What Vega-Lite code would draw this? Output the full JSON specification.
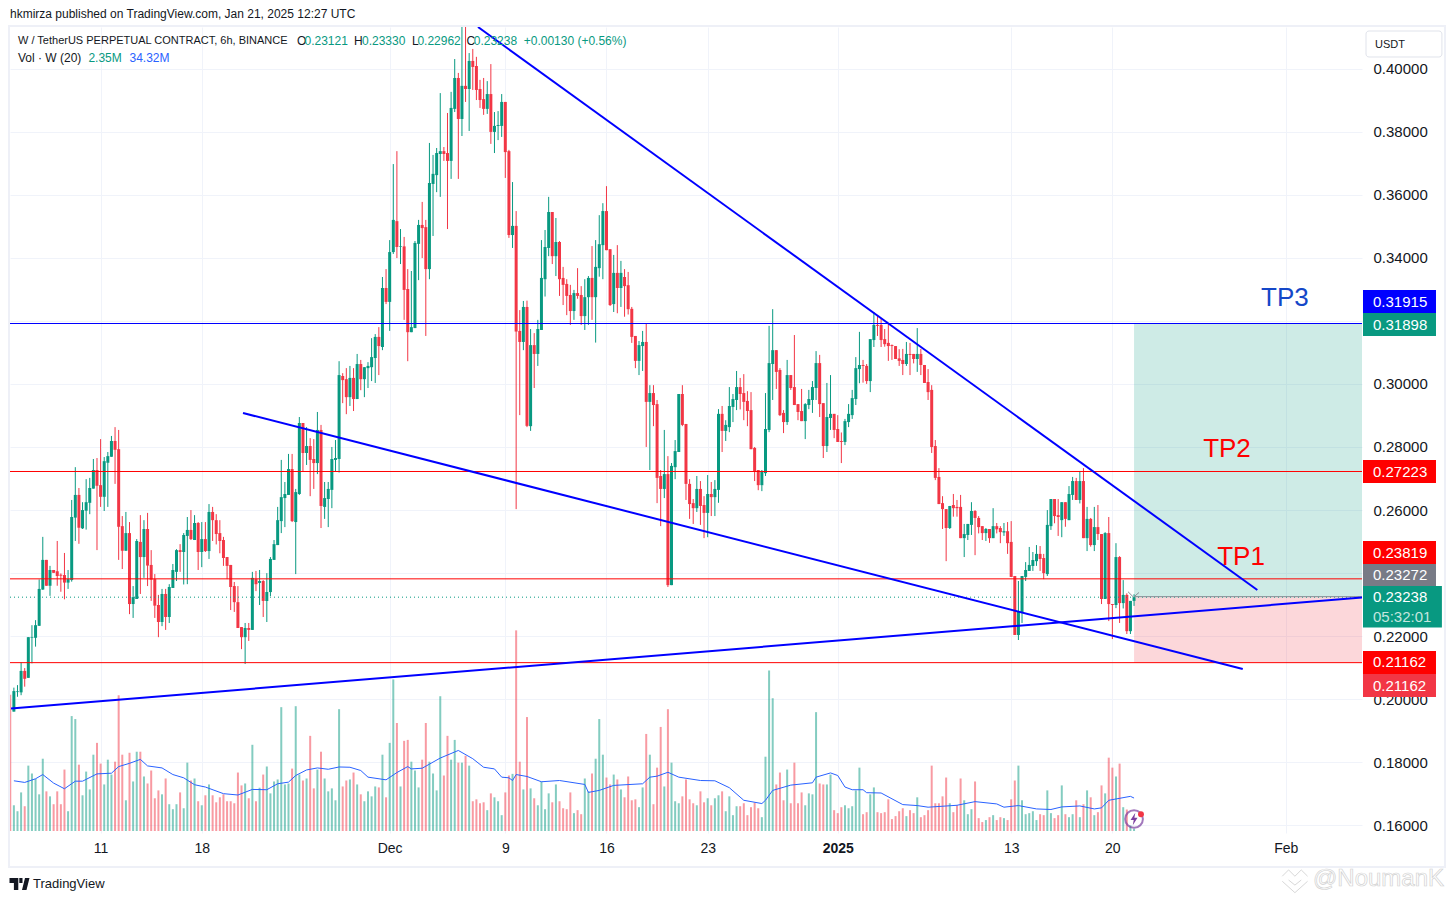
{
"$schema":"https://vega.github.io/schema/vega-lite/v6.json",
"autosize":{"type":"none"},
"padding":{"left":10,"top":27,"right":94,"bottom":69},
"width":1352,"height":806,
"background":"white",
"title":{"text":"hkmirza published on TradingView.com, Jan 21, 2025 12:27 UTC","anchor":"start","frame":"group","offset":4,"fontSize":12,"fontWeight":"normal","font":"Liberation Sans","color":"#131722"},
"config":{"view":{"stroke":null},"font":"Liberation Sans"},
"datasets":{
"bars":[
{"t":"2024-11-04T18:00Z","v":142},
{"t":"2024-11-05T00:00Z","o":0.1961,"h":0.2037,"l":0.1961,"c":0.2026,"v":26.8,"m":52.3},
{"t":"2024-11-05T06:00Z","o":0.2023,"h":0.2045,"l":0.2008,"c":0.2025,"v":20.6},
{"t":"2024-11-05T12:00Z","o":0.2022,"h":0.2117,"l":0.2013,"c":0.209,"v":40.2},
{"t":"2024-11-05T18:00Z","o":0.209,"h":0.2099,"l":0.204,"c":0.2065,"v":25.8,"m":50.6},
{"t":"2024-11-06T00:00Z","o":0.2068,"h":0.2197,"l":0.2068,"c":0.2197,"v":68.1},
{"t":"2024-11-06T06:00Z","o":0.2195,"h":0.2235,"l":0.2114,"c":0.2197,"v":59.9},
{"t":"2024-11-06T12:00Z","o":0.2195,"h":0.2251,"l":0.2167,"c":0.2235,"v":54.4,"m":54.4},
{"t":"2024-11-06T18:00Z","o":0.2233,"h":0.238,"l":0.2233,"c":0.235,"v":38.2},
{"t":"2024-11-07T00:00Z","o":0.2348,"h":0.2515,"l":0.2347,"c":0.2442,"v":75.3,"m":58.8},
{"t":"2024-11-07T06:00Z","o":0.2442,"h":0.2442,"l":0.236,"c":0.236,"v":41.3},
{"t":"2024-11-07T12:00Z","o":0.236,"h":0.2423,"l":0.2328,"c":0.241,"v":36.1},
{"t":"2024-11-07T18:00Z","o":0.241,"h":0.241,"l":0.2401,"c":0.2401,"v":27.9,"m":49.9},
{"t":"2024-11-08T00:00Z","o":0.2406,"h":0.2502,"l":0.236,"c":0.2391,"v":41.3},
{"t":"2024-11-08T06:00Z","o":0.2395,"h":0.2399,"l":0.2341,"c":0.2392,"v":27.9},
{"t":"2024-11-08T12:00Z","o":0.2394,"h":0.2464,"l":0.2317,"c":0.237,"v":64,"m":44},
{"t":"2024-11-08T18:00Z","o":0.237,"h":0.241,"l":0.235,"c":0.2381,"v":20.6},
{"t":"2024-11-09T00:00Z","o":0.2378,"h":0.2632,"l":0.2373,"c":0.2578,"v":119.7},
{"t":"2024-11-09T06:00Z","o":0.2576,"h":0.2736,"l":0.2502,"c":0.2648,"v":116.6,"m":51.9},
{"t":"2024-11-09T12:00Z","o":0.2648,"h":0.267,"l":0.2493,"c":0.2544,"v":69.1},
{"t":"2024-11-09T18:00Z","o":0.2542,"h":0.2625,"l":0.254,"c":0.26,"v":37.2,"m":51.9},
{"t":"2024-11-10T00:00Z","o":0.2598,"h":0.2698,"l":0.2538,"c":0.2625,"v":61.9},
{"t":"2024-11-10T06:00Z","o":0.2623,"h":0.2702,"l":0.2587,"c":0.267,"v":43.3},
{"t":"2024-11-10T12:00Z","o":0.2668,"h":0.2762,"l":0.2668,"c":0.2727,"v":79.5},
{"t":"2024-11-10T18:00Z","o":0.2727,"h":0.2765,"l":0.2473,"c":0.2677,"v":91.8,"m":59.5},
{"t":"2024-11-11T00:00Z","o":0.2679,"h":0.2825,"l":0.261,"c":0.2642,"v":70.2},
{"t":"2024-11-11T06:00Z","o":0.2642,"h":0.2768,"l":0.2597,"c":0.2755,"v":48.5},
{"t":"2024-11-11T12:00Z","o":0.275,"h":0.2784,"l":0.261,"c":0.2771,"v":74.3},
{"t":"2024-11-11T18:00Z","o":0.2769,"h":0.2835,"l":0.2769,"c":0.2819,"v":58.8,"m":60.2},
{"t":"2024-11-12T00:00Z","o":0.2819,"h":0.2863,"l":0.2683,"c":0.2791,"v":72.2},
{"t":"2024-11-12T06:00Z","o":0.2793,"h":0.2854,"l":0.2442,"c":0.2547,"v":141.4,"m":67.1},
{"t":"2024-11-12T12:00Z","o":0.2549,"h":0.2581,"l":0.2413,"c":0.2471,"v":79.5},
{"t":"2024-11-12T18:00Z","o":0.2471,"h":0.2594,"l":0.2471,"c":0.2527,"v":32},
{"t":"2024-11-13T00:00Z","o":0.2527,"h":0.2562,"l":0.227,"c":0.2302,"v":81.5,"m":70.5},
{"t":"2024-11-13T06:00Z","o":0.2302,"h":0.2359,"l":0.2258,"c":0.2324,"v":51.6},
{"t":"2024-11-13T12:00Z","o":0.2318,"h":0.2508,"l":0.2318,"c":0.2502,"v":82.6},
{"t":"2024-11-13T18:00Z","o":0.2499,"h":0.2584,"l":0.2334,"c":0.2451,"v":82.6,"m":74.6},
{"t":"2024-11-14T00:00Z","o":0.2451,"h":0.2568,"l":0.2385,"c":0.254,"v":56.8},
{"t":"2024-11-14T06:00Z","o":0.254,"h":0.2591,"l":0.2359,"c":0.2424,"v":49.5,"m":67.8},
{"t":"2024-11-14T12:00Z","o":0.2426,"h":0.2473,"l":0.2312,"c":0.2379,"v":63},
{"t":"2024-11-14T18:00Z","o":0.2381,"h":0.2397,"l":0.2258,"c":0.2297,"v":34.1},
{"t":"2024-11-15T00:00Z","o":0.2299,"h":0.2331,"l":0.2197,"c":0.2245,"v":42.3},
{"t":"2024-11-15T06:00Z","o":0.2245,"h":0.235,"l":0.2232,"c":0.2334,"v":38.2,"m":65.7},
{"t":"2024-11-15T12:00Z","o":0.2334,"h":0.235,"l":0.222,"c":0.2261,"v":54.7},
{"t":"2024-11-15T18:00Z","o":0.2261,"h":0.2365,"l":0.2242,"c":0.2356,"v":27.9},
{"t":"2024-11-16T00:00Z","o":0.2353,"h":0.2429,"l":0.2353,"c":0.241,"v":22.7,"m":58.8},
{"t":"2024-11-16T06:00Z","o":0.2404,"h":0.2476,"l":0.2375,"c":0.2473,"v":27.9},
{"t":"2024-11-16T12:00Z","o":0.2473,"h":0.2492,"l":0.2404,"c":0.2467,"v":40.2},
{"t":"2024-11-16T18:00Z","o":0.2467,"h":0.2527,"l":0.2364,"c":0.2521,"v":23.7,"m":55.4},
{"t":"2024-11-17T00:00Z","o":0.2518,"h":0.2578,"l":0.2365,"c":0.2537,"v":71.2},
{"t":"2024-11-17T06:00Z","o":0.2537,"h":0.26,"l":0.2505,"c":0.2508,"v":52.6},
{"t":"2024-11-17T12:00Z","o":0.2505,"h":0.2584,"l":0.2505,"c":0.2559,"v":54.7,"m":48.2},
{"t":"2024-11-17T18:00Z","o":0.2559,"h":0.2562,"l":0.241,"c":0.2467,"v":31},
{"t":"2024-11-18T00:00Z","o":0.2467,"h":0.2562,"l":0.2419,"c":0.2508,"v":26.8},
{"t":"2024-11-18T06:00Z","o":0.2508,"h":0.2562,"l":0.2467,"c":0.247,"v":37.2,"m":45.8},
{"t":"2024-11-18T12:00Z","o":0.247,"h":0.2619,"l":0.2445,"c":0.2594,"v":48.5},
{"t":"2024-11-18T18:00Z","o":0.2594,"h":0.261,"l":0.2502,"c":0.2568,"v":37.2},
{"t":"2024-11-19T00:00Z","o":0.2568,"h":0.2587,"l":0.2491,"c":0.2524,"v":29.9},
{"t":"2024-11-19T06:00Z","o":0.2527,"h":0.2568,"l":0.2463,"c":0.2502,"v":35.1},
{"t":"2024-11-19T12:00Z","o":0.2505,"h":0.2515,"l":0.2423,"c":0.2448,"v":38.2,"m":38.9},
{"t":"2024-11-19T18:00Z","o":0.2451,"h":0.2451,"l":0.2381,"c":0.2423,"v":31},
{"t":"2024-11-20T00:00Z","o":0.2426,"h":0.2426,"l":0.2283,"c":0.2356,"v":31},
{"t":"2024-11-20T06:00Z","o":0.2359,"h":0.2372,"l":0.2277,"c":0.2308,"v":28.9},
{"t":"2024-11-20T12:00Z","o":0.2308,"h":0.2359,"l":0.2226,"c":0.2226,"v":60.9,"m":37.5},
{"t":"2024-11-20T18:00Z","o":0.2229,"h":0.2229,"l":0.2159,"c":0.2197,"v":47.5},
{"t":"2024-11-21T00:00Z","o":0.2197,"h":0.2242,"l":0.2112,"c":0.2226,"v":49.5},
{"t":"2024-11-21T06:00Z","o":0.2226,"h":0.2242,"l":0.2185,"c":0.222,"v":34.1},
{"t":"2024-11-21T12:00Z","o":0.222,"h":0.2404,"l":0.222,"c":0.2385,"v":89.8,"m":43.3},
{"t":"2024-11-21T18:00Z","o":0.2381,"h":0.2407,"l":0.2343,"c":0.2365,"v":31},
{"t":"2024-11-22T00:00Z","o":0.2369,"h":0.241,"l":0.2299,"c":0.2375,"v":45.1},
{"t":"2024-11-22T06:00Z","o":0.2375,"h":0.2378,"l":0.2261,"c":0.2312,"v":58.8},
{"t":"2024-11-22T12:00Z","o":0.2312,"h":0.24,"l":0.2245,"c":0.234,"v":67.1,"m":43},
{"t":"2024-11-22T18:00Z","o":0.234,"h":0.2451,"l":0.2327,"c":0.2445,"v":39.2},
{"t":"2024-11-23T00:00Z","o":0.2442,"h":0.2505,"l":0.2442,"c":0.2492,"v":51.6},
{"t":"2024-11-23T06:00Z","o":0.2489,"h":0.261,"l":0.2489,"c":0.2568,"v":53.7,"m":49.2},
{"t":"2024-11-23T12:00Z","o":0.2565,"h":0.2759,"l":0.2527,"c":0.2641,"v":129},
{"t":"2024-11-23T18:00Z","o":0.2638,"h":0.2689,"l":0.2546,"c":0.2651,"v":48.5},
{"t":"2024-11-24T00:00Z","o":0.2648,"h":0.2778,"l":0.2648,"c":0.273,"v":49.5,"m":50.9},
{"t":"2024-11-24T06:00Z","o":0.273,"h":0.2778,"l":0.2562,"c":0.2565,"v":65},
{"t":"2024-11-24T12:00Z","o":0.2562,"h":0.2667,"l":0.2397,"c":0.2657,"v":130,"m":57.8},
{"t":"2024-11-24T18:00Z","o":0.2651,"h":0.2895,"l":0.2648,"c":0.2876,"v":58.8},
{"t":"2024-11-25T00:00Z","o":0.2876,"h":0.2876,"l":0.2723,"c":0.2781,"v":52.6},
{"t":"2024-11-25T06:00Z","o":0.2781,"h":0.2863,"l":0.2743,"c":0.2803,"v":54.7,"m":63.6},
{"t":"2024-11-25T12:00Z","o":0.2803,"h":0.2828,"l":0.2644,"c":0.2759,"v":99.1},
{"t":"2024-11-25T18:00Z","o":0.2762,"h":0.2825,"l":0.2667,"c":0.2749,"v":44.4},
{"t":"2024-11-26T00:00Z","o":0.2749,"h":0.2911,"l":0.2714,"c":0.2854,"v":64,"m":65.7},
{"t":"2024-11-26T06:00Z","o":0.2854,"h":0.287,"l":0.2543,"c":0.2613,"v":82.6},
{"t":"2024-11-26T12:00Z","o":0.261,"h":0.2689,"l":0.2572,"c":0.2638,"v":54.7},
{"t":"2024-11-26T18:00Z","o":0.2635,"h":0.2689,"l":0.2546,"c":0.2667,"v":41.3,"m":64.3},
{"t":"2024-11-27T00:00Z","o":0.2664,"h":0.28,"l":0.2606,"c":0.2762,"v":44.4},
{"t":"2024-11-27T06:00Z","o":0.2759,"h":0.2822,"l":0.2721,"c":0.2765,"v":32},
{"t":"2024-11-27T12:00Z","o":0.2762,"h":0.3072,"l":0.2719,"c":0.3028,"v":126.9,"m":66.7},
{"t":"2024-11-27T18:00Z","o":0.3025,"h":0.3034,"l":0.2939,"c":0.3012,"v":46.4},
{"t":"2024-11-28T00:00Z","o":0.3015,"h":0.305,"l":0.2904,"c":0.2958,"v":52.6},
{"t":"2024-11-28T06:00Z","o":0.2958,"h":0.3057,"l":0.293,"c":0.3019,"v":53.7,"m":66.4},
{"t":"2024-11-28T12:00Z","o":0.3019,"h":0.305,"l":0.2914,"c":0.2952,"v":60.9},
{"t":"2024-11-28T18:00Z","o":0.2952,"h":0.3095,"l":0.2952,"c":0.3063,"v":48.5},
{"t":"2024-11-29T00:00Z","o":0.3063,"h":0.3076,"l":0.298,"c":0.3015,"v":38.2,"m":63},
{"t":"2024-11-29T06:00Z","o":0.3015,"h":0.3053,"l":0.2958,"c":0.3053,"v":31},
{"t":"2024-11-29T12:00Z","o":0.305,"h":0.3069,"l":0.2987,"c":0.3057,"v":41.3,"m":56.1},
{"t":"2024-11-29T18:00Z","o":0.3053,"h":0.3145,"l":0.3009,"c":0.3085,"v":36.1},
{"t":"2024-11-30T00:00Z","o":0.3082,"h":0.3158,"l":0.3003,"c":0.3149,"v":46.4},
{"t":"2024-11-30T06:00Z","o":0.3149,"h":0.318,"l":0.3028,"c":0.312,"v":45.4},
{"t":"2024-11-30T12:00Z","o":0.3117,"h":0.3339,"l":0.3107,"c":0.3304,"v":79.5},
{"t":"2024-11-30T18:00Z","o":0.3304,"h":0.3364,"l":0.3253,"c":0.326,"v":35.1,"m":53.3},
{"t":"2024-12-01T00:00Z","o":0.326,"h":0.3456,"l":0.3168,"c":0.3418,"v":91.8},
{"t":"2024-12-01T06:00Z","o":0.3418,"h":0.3697,"l":0.3412,"c":0.352,"v":157.9},
{"t":"2024-12-01T12:00Z","o":0.3516,"h":0.3738,"l":0.3399,"c":0.3434,"v":112.5,"m":60.9},
{"t":"2024-12-01T18:00Z","o":0.3434,"h":0.3491,"l":0.338,"c":0.3436,"v":46.4},
{"t":"2024-12-02T00:00Z","o":0.3436,"h":0.3466,"l":0.3203,"c":0.3298,"v":93.9},
{"t":"2024-12-02T06:00Z","o":0.3301,"h":0.3364,"l":0.3072,"c":0.3164,"v":94.9,"m":67.1},
{"t":"2024-12-02T12:00Z","o":0.3164,"h":0.3358,"l":0.3164,"c":0.318,"v":72.2,"m":64.7},
{"t":"2024-12-02T18:00Z","o":0.3177,"h":0.3453,"l":0.3177,"c":0.3447,"v":63},
{"t":"2024-12-03T00:00Z","o":0.3444,"h":0.352,"l":0.3329,"c":0.3504,"v":45.4},
{"t":"2024-12-03T06:00Z","o":0.3504,"h":0.3577,"l":0.3399,"c":0.3494,"v":74.3,"m":65.4},
{"t":"2024-12-03T12:00Z","o":0.3497,"h":0.352,"l":0.3152,"c":0.3364,"v":112.5},
{"t":"2024-12-03T18:00Z","o":0.3364,"h":0.3764,"l":0.3332,"c":0.3637,"v":72.2},
{"t":"2024-12-04T00:00Z","o":0.3634,"h":0.3726,"l":0.3469,"c":0.3666,"v":59.9},
{"t":"2024-12-04T06:00Z","o":0.3662,"h":0.3748,"l":0.3608,"c":0.3732,"v":42.3},
{"t":"2024-12-04T12:00Z","o":0.3729,"h":0.3922,"l":0.3593,"c":0.3738,"v":140.4,"m":76},
{"t":"2024-12-04T18:00Z","o":0.3738,"h":0.3751,"l":0.3707,"c":0.3729,"v":57.8},
{"t":"2024-12-05T00:00Z","o":0.3732,"h":0.3859,"l":0.3491,"c":0.3707,"v":99.1},
{"t":"2024-12-05T06:00Z","o":0.3707,"h":0.3926,"l":0.365,"c":0.3875,"v":74.3},
{"t":"2024-12-05T12:00Z","o":0.3872,"h":0.403,"l":0.3862,"c":0.397,"v":94.9},
{"t":"2024-12-05T18:00Z","o":0.397,"h":0.3986,"l":0.365,"c":0.384,"v":71.2,"m":83.9},
{"t":"2024-12-06T00:00Z","o":0.384,"h":0.415,"l":0.3786,"c":0.3945,"v":71.2},
{"t":"2024-12-06T06:00Z","o":0.3945,"h":0.415,"l":0.3894,"c":0.3935,"v":78.4},
{"t":"2024-12-06T12:00Z","o":0.3935,"h":0.4049,"l":0.3802,"c":0.4024,"v":68.1},
{"t":"2024-12-06T18:00Z","o":0.4024,"h":0.4062,"l":0.3932,"c":0.4005,"v":31,"m":75.3},
{"t":"2024-12-07T00:00Z","o":0.4008,"h":0.4037,"l":0.39,"c":0.3932,"v":33},
{"t":"2024-12-07T06:00Z","o":0.3935,"h":0.3964,"l":0.3875,"c":0.39,"v":28.9},
{"t":"2024-12-07T12:00Z","o":0.3903,"h":0.397,"l":0.3853,"c":0.3872,"v":29.9,"m":66.4},
{"t":"2024-12-07T18:00Z","o":0.3872,"h":0.396,"l":0.3856,"c":0.3919,"v":21.7},
{"t":"2024-12-08T00:00Z","o":0.3919,"h":0.4014,"l":0.3761,"c":0.3799,"v":39.2},
{"t":"2024-12-08T06:00Z","o":0.3799,"h":0.3862,"l":0.3732,"c":0.3818,"v":35.1,"m":64.7},
{"t":"2024-12-08T12:00Z","o":0.3818,"h":0.3865,"l":0.3773,"c":0.3821,"v":31},
{"t":"2024-12-08T18:00Z","o":0.3818,"h":0.3919,"l":0.3783,"c":0.3894,"v":16.5,"m":56.1},
{"t":"2024-12-09T00:00Z","o":0.3894,"h":0.3894,"l":0.3653,"c":0.3735,"v":40.2},
{"t":"2024-12-09T06:00Z","o":0.3738,"h":0.3742,"l":0.3463,"c":0.3472,"v":57.8,"m":55.4},
{"t":"2024-12-09T12:00Z","o":0.3472,"h":0.364,"l":0.3431,"c":0.3501,"v":59.5,"m":52.6},
{"t":"2024-12-09T18:00Z","o":0.3501,"h":0.3548,"l":0.2603,"c":0.3166,"v":209,"m":58.8},
{"t":"2024-12-10T00:00Z","o":0.3168,"h":0.3234,"l":0.2901,"c":0.3133,"v":72.2},
{"t":"2024-12-10T06:00Z","o":0.3133,"h":0.3263,"l":0.3107,"c":0.3244,"v":43.3},
{"t":"2024-12-10T12:00Z","o":0.3244,"h":0.3264,"l":0.2863,"c":0.2867,"v":118.7,"m":56.8},
{"t":"2024-12-10T18:00Z","o":0.2866,"h":0.3174,"l":0.2851,"c":0.3123,"v":44.4},
{"t":"2024-12-11T00:00Z","o":0.3123,"h":0.3161,"l":0.2987,"c":0.3095,"v":34.1},
{"t":"2024-12-11T06:00Z","o":0.3095,"h":0.3203,"l":0.3057,"c":0.3174,"v":26.8},
{"t":"2024-12-11T12:00Z","o":0.3171,"h":0.3456,"l":0.3171,"c":0.3336,"v":51.6,"m":51.3},
{"t":"2024-12-11T18:00Z","o":0.3332,"h":0.3488,"l":0.3277,"c":0.3434,"v":22.7},
{"t":"2024-12-12T00:00Z","o":0.3431,"h":0.3593,"l":0.3405,"c":0.3545,"v":39.2},
{"t":"2024-12-12T06:00Z","o":0.3545,"h":0.3545,"l":0.338,"c":0.3405,"v":29.9},
{"t":"2024-12-12T12:00Z","o":0.3405,"h":0.3526,"l":0.3342,"c":0.345,"v":48.5},
{"t":"2024-12-12T18:00Z","o":0.345,"h":0.3453,"l":0.3279,"c":0.3332,"v":31,"m":52.6},
{"t":"2024-12-13T00:00Z","o":0.3336,"h":0.3371,"l":0.325,"c":0.3314,"v":23.7},
{"t":"2024-12-13T06:00Z","o":0.3317,"h":0.3332,"l":0.3218,"c":0.3279,"v":22.7},
{"t":"2024-12-13T12:00Z","o":0.3282,"h":0.3314,"l":0.3187,"c":0.3231,"v":40.2},
{"t":"2024-12-13T18:00Z","o":0.3231,"h":0.3298,"l":0.3203,"c":0.3288,"v":18.6},
{"t":"2024-12-14T00:00Z","o":0.3288,"h":0.3367,"l":0.327,"c":0.3279,"v":21.7},
{"t":"2024-12-14T06:00Z","o":0.3282,"h":0.331,"l":0.3187,"c":0.3215,"v":17.5},
{"t":"2024-12-14T12:00Z","o":0.3215,"h":0.3332,"l":0.3171,"c":0.3275,"v":54.7,"m":48.5},
{"t":"2024-12-14T18:00Z","o":0.3275,"h":0.3342,"l":0.3187,"c":0.3336,"v":41.3,"m":40.2},
{"t":"2024-12-15T00:00Z","o":0.3336,"h":0.3437,"l":0.3203,"c":0.3275,"v":59.9},
{"t":"2024-12-15T06:00Z","o":0.3275,"h":0.3456,"l":0.3131,"c":0.3371,"v":75.3},
{"t":"2024-12-15T12:00Z","o":0.3367,"h":0.3535,"l":0.334,"c":0.3443,"v":116.6,"m":42.3},
{"t":"2024-12-15T18:00Z","o":0.344,"h":0.3573,"l":0.3332,"c":0.3548,"v":79.5},
{"t":"2024-12-16T00:00Z","o":0.3548,"h":0.3627,"l":0.3424,"c":0.3424,"v":55.7},
{"t":"2024-12-16T06:00Z","o":0.3427,"h":0.3427,"l":0.3247,"c":0.325,"v":48.5},
{"t":"2024-12-16T12:00Z","o":0.3253,"h":0.3409,"l":0.3228,"c":0.3352,"v":58.8,"m":47.5},
{"t":"2024-12-16T18:00Z","o":0.3352,"h":0.344,"l":0.3224,"c":0.3304,"v":53.7},
{"t":"2024-12-17T00:00Z","o":0.3304,"h":0.339,"l":0.3244,"c":0.3352,"v":43.3},
{"t":"2024-12-17T06:00Z","o":0.3339,"h":0.3364,"l":0.3213,"c":0.331,"v":35.1},
{"t":"2024-12-17T12:00Z","o":0.3313,"h":0.3355,"l":0.322,"c":0.3237,"v":56.8},
{"t":"2024-12-17T18:00Z","o":0.3238,"h":0.3244,"l":0.313,"c":0.3149,"v":32},
{"t":"2024-12-18T00:00Z","o":0.3152,"h":0.3152,"l":0.305,"c":0.3073,"v":33},
{"t":"2024-12-18T06:00Z","o":0.3073,"h":0.3136,"l":0.3028,"c":0.3123,"v":24.8},
{"t":"2024-12-18T12:00Z","o":0.312,"h":0.3168,"l":0.3041,"c":0.3133,"v":45.4,"m":49.2},
{"t":"2024-12-18T18:00Z","o":0.3133,"h":0.3193,"l":0.28,"c":0.2943,"v":101.1},
{"t":"2024-12-19T00:00Z","o":0.2943,"h":0.2996,"l":0.2727,"c":0.2971,"v":79.5,"m":56.1},
{"t":"2024-12-19T06:00Z","o":0.2971,"h":0.2996,"l":0.2866,"c":0.2933,"v":27.9},
{"t":"2024-12-19T12:00Z","o":0.2936,"h":0.2949,"l":0.2622,"c":0.2702,"v":66,"m":57.1},
{"t":"2024-12-19T18:00Z","o":0.2708,"h":0.2727,"l":0.2549,"c":0.2667,"v":108.4},
{"t":"2024-12-20T00:00Z","o":0.2667,"h":0.2854,"l":0.2638,"c":0.2714,"v":46.4},
{"t":"2024-12-20T06:00Z","o":0.2714,"h":0.2771,"l":0.2356,"c":0.2362,"v":126.9,"m":61.2},
{"t":"2024-12-20T12:00Z","o":0.2362,"h":0.2749,"l":0.2362,"c":0.274,"v":71.2},
{"t":"2024-12-20T18:00Z","o":0.2736,"h":0.2822,"l":0.2698,"c":0.2787,"v":31},
{"t":"2024-12-21T00:00Z","o":0.2784,"h":0.2968,"l":0.2784,"c":0.2968,"v":28.9,"m":56.1},
{"t":"2024-12-21T06:00Z","o":0.2968,"h":0.2996,"l":0.2866,"c":0.287,"v":36.1},
{"t":"2024-12-21T12:00Z","o":0.2873,"h":0.2873,"l":0.2632,"c":0.2683,"v":53.7},
{"t":"2024-12-21T18:00Z","o":0.2683,"h":0.2698,"l":0.2572,"c":0.2619,"v":33},
{"t":"2024-12-22T00:00Z","o":0.2622,"h":0.2635,"l":0.2556,"c":0.2606,"v":28.9},
{"t":"2024-12-22T06:00Z","o":0.2606,"h":0.2708,"l":0.2594,"c":0.2667,"v":26.8},
{"t":"2024-12-22T12:00Z","o":0.2667,"h":0.2692,"l":0.2553,"c":0.2613,"v":41.3,"m":52.6},
{"t":"2024-12-22T18:00Z","o":0.2616,"h":0.2644,"l":0.2511,"c":0.2591,"v":29.9},
{"t":"2024-12-23T00:00Z","o":0.2591,"h":0.2711,"l":0.2514,"c":0.2651,"v":34.1},
{"t":"2024-12-23T06:00Z","o":0.2651,"h":0.2689,"l":0.2581,"c":0.2641,"v":26.8},
{"t":"2024-12-23T12:00Z","o":0.2641,"h":0.2695,"l":0.2581,"c":0.2667,"v":34.1,"m":52.3},
{"t":"2024-12-23T18:00Z","o":0.2664,"h":0.292,"l":0.2623,"c":0.2905,"v":37.2},
{"t":"2024-12-24T00:00Z","o":0.2905,"h":0.293,"l":0.2784,"c":0.2851,"v":41.3},
{"t":"2024-12-24T06:00Z","o":0.2851,"h":0.2885,"l":0.2819,"c":0.287,"v":20.6},
{"t":"2024-12-24T12:00Z","o":0.2863,"h":0.299,"l":0.2847,"c":0.293,"v":36.1,"m":45.1},
{"t":"2024-12-24T18:00Z","o":0.2927,"h":0.2968,"l":0.2879,"c":0.2952,"v":16.5},
{"t":"2024-12-25T00:00Z","o":0.2949,"h":0.3041,"l":0.2917,"c":0.299,"v":25.8},
{"t":"2024-12-25T06:00Z","o":0.299,"h":0.3019,"l":0.2919,"c":0.2968,"v":25.8},
{"t":"2024-12-25T12:00Z","o":0.2971,"h":0.3031,"l":0.2885,"c":0.2943,"v":28.9,"m":32},
{"t":"2024-12-25T18:00Z","o":0.2946,"h":0.2977,"l":0.2866,"c":0.2914,"v":16.5},
{"t":"2024-12-26T00:00Z","o":0.2917,"h":0.2974,"l":0.2793,"c":0.2793,"v":24.8},
{"t":"2024-12-26T06:00Z","o":0.2797,"h":0.28,"l":0.2692,"c":0.2721,"v":29.6},
{"t":"2024-12-26T12:00Z","o":0.2727,"h":0.2727,"l":0.2663,"c":0.2679,"v":23.7},
{"t":"2024-12-26T18:00Z","o":0.2679,"h":0.2727,"l":0.266,"c":0.2724,"v":14.4,"m":28.6},
{"t":"2024-12-27T00:00Z","o":0.2717,"h":0.2971,"l":0.2708,"c":0.2857,"v":77.4,"m":32},
{"t":"2024-12-27T06:00Z","o":0.2854,"h":0.3184,"l":0.2847,"c":0.3066,"v":167.2},
{"t":"2024-12-27T12:00Z","o":0.3063,"h":0.3237,"l":0.2949,"c":0.3107,"v":138.3,"m":42.3},
{"t":"2024-12-27T18:00Z","o":0.3107,"h":0.3107,"l":0.2984,"c":0.3038,"v":48.5},
{"t":"2024-12-28T00:00Z","o":0.3044,"h":0.305,"l":0.2898,"c":0.2901,"v":60.9},
{"t":"2024-12-28T06:00Z","o":0.2908,"h":0.2917,"l":0.2844,"c":0.2879,"v":32},
{"t":"2024-12-28T12:00Z","o":0.2879,"h":0.3076,"l":0.287,"c":0.3028,"v":64},
{"t":"2024-12-28T18:00Z","o":0.3028,"h":0.3028,"l":0.2981,"c":0.2987,"v":28.9,"m":47.8},
{"t":"2024-12-29T00:00Z","o":0.299,"h":0.3155,"l":0.2933,"c":0.2933,"v":71.2},
{"t":"2024-12-29T06:00Z","o":0.2936,"h":0.2936,"l":0.2885,"c":0.2911,"v":28.9},
{"t":"2024-12-29T12:00Z","o":0.2914,"h":0.2984,"l":0.2882,"c":0.2882,"v":40.2},
{"t":"2024-12-29T18:00Z","o":0.2882,"h":0.2939,"l":0.2825,"c":0.2936,"v":26.8},
{"t":"2024-12-30T00:00Z","o":0.2933,"h":0.2981,"l":0.292,"c":0.2952,"v":39.2},
{"t":"2024-12-30T06:00Z","o":0.2949,"h":0.3009,"l":0.2908,"c":0.299,"v":38.2,"m":50.2},
{"t":"2024-12-30T12:00Z","o":0.2987,"h":0.3104,"l":0.2949,"c":0.3066,"v":123.8,"m":56.1},
{"t":"2024-12-30T18:00Z","o":0.3066,"h":0.3092,"l":0.2895,"c":0.2936,"v":49.5},
{"t":"2024-12-31T00:00Z","o":0.2939,"h":0.2939,"l":0.2765,"c":0.2803,"v":48.5},
{"t":"2024-12-31T06:00Z","o":0.2803,"h":0.3003,"l":0.2784,"c":0.2895,"v":48.5},
{"t":"2024-12-31T12:00Z","o":0.2892,"h":0.3028,"l":0.2854,"c":0.2905,"v":58.8,"m":60.5},
{"t":"2024-12-31T18:00Z","o":0.2905,"h":0.2905,"l":0.2828,"c":0.2854,"v":21.7},
{"t":"2025-01-01T00:00Z","o":0.2857,"h":0.2901,"l":0.2816,"c":0.2816,"v":18.6,"m":57.8},
{"t":"2025-01-01T06:00Z","o":0.2819,"h":0.2846,"l":0.2749,"c":0.2816,"v":24.8},
{"t":"2025-01-01T12:00Z","o":0.2816,"h":0.2889,"l":0.2806,"c":0.2882,"v":26.8,"m":45.8},
{"t":"2025-01-01T18:00Z","o":0.2879,"h":0.2936,"l":0.2863,"c":0.2905,"v":23.7},
{"t":"2025-01-02T00:00Z","o":0.2901,"h":0.2981,"l":0.2889,"c":0.2955,"v":25.8,"m":43},
{"t":"2025-01-02T06:00Z","o":0.2952,"h":0.3085,"l":0.2933,"c":0.305,"v":42.3},
{"t":"2025-01-02T12:00Z","o":0.3047,"h":0.3165,"l":0.3002,"c":0.306,"v":66},
{"t":"2025-01-02T18:00Z","o":0.306,"h":0.3076,"l":0.3004,"c":0.3057,"v":17.5,"m":43},
{"t":"2025-01-03T00:00Z","o":0.3057,"h":0.3063,"l":0.3,"c":0.3009,"v":19.6,"m":39.9},
{"t":"2025-01-03T06:00Z","o":0.3009,"h":0.3142,"l":0.2974,"c":0.3142,"v":38.2},
{"t":"2025-01-03T12:00Z","o":0.3139,"h":0.3228,"l":0.3117,"c":0.3187,"v":45.4},
{"t":"2025-01-03T18:00Z","o":0.3187,"h":0.3218,"l":0.3152,"c":0.3184,"v":19.6},
{"t":"2025-01-04T00:00Z","o":0.3187,"h":0.3206,"l":0.3117,"c":0.3139,"v":18.6,"m":39.6},
{"t":"2025-01-04T06:00Z","o":0.3142,"h":0.3174,"l":0.3118,"c":0.3126,"v":19.6},
{"t":"2025-01-04T12:00Z","o":0.313,"h":0.3193,"l":0.3073,"c":0.312,"v":33},
{"t":"2025-01-04T18:00Z","o":0.3123,"h":0.3125,"l":0.3076,"c":0.312,"v":12.4},
{"t":"2025-01-05T00:00Z","o":0.312,"h":0.312,"l":0.3079,"c":0.3079,"v":15.5},
{"t":"2025-01-05T06:00Z","o":0.3081,"h":0.311,"l":0.3057,"c":0.3073,"v":20.6},
{"t":"2025-01-05T12:00Z","o":0.3076,"h":0.3111,"l":0.3028,"c":0.3063,"v":23.7,"m":27.5},
{"t":"2025-01-05T18:00Z","o":0.3063,"h":0.3133,"l":0.3057,"c":0.3095,"v":15.5},
{"t":"2025-01-06T00:00Z","o":0.3095,"h":0.313,"l":0.3028,"c":0.3092,"v":21.7},
{"t":"2025-01-06T06:00Z","o":0.3095,"h":0.3095,"l":0.3065,"c":0.3079,"v":18.6},
{"t":"2025-01-06T12:00Z","o":0.3079,"h":0.3177,"l":0.3038,"c":0.3095,"v":35.1,"m":26.5},
{"t":"2025-01-06T18:00Z","o":0.3095,"h":0.3111,"l":0.3028,"c":0.306,"v":14.4},
{"t":"2025-01-07T00:00Z","o":0.306,"h":0.306,"l":0.3003,"c":0.3003,"v":16.5},
{"t":"2025-01-07T06:00Z","o":0.3006,"h":0.3047,"l":0.2949,"c":0.2974,"v":21.7,"m":24.8},
{"t":"2025-01-07T12:00Z","o":0.2981,"h":0.2996,"l":0.2781,"c":0.28,"v":68.1},
{"t":"2025-01-07T18:00Z","o":0.2803,"h":0.2822,"l":0.2695,"c":0.2702,"v":28.9},
{"t":"2025-01-08T00:00Z","o":0.2705,"h":0.2733,"l":0.2619,"c":0.2619,"v":28.9},
{"t":"2025-01-08T06:00Z","o":0.2622,"h":0.2644,"l":0.254,"c":0.2603,"v":36.1},
{"t":"2025-01-08T12:00Z","o":0.2603,"h":0.2603,"l":0.2438,"c":0.2543,"v":55.7},
{"t":"2025-01-08T18:00Z","o":0.2543,"h":0.2613,"l":0.254,"c":0.2613,"v":28.9},
{"t":"2025-01-09T00:00Z","o":0.2616,"h":0.2651,"l":0.2579,"c":0.2606,"v":19.6},
{"t":"2025-01-09T06:00Z","o":0.261,"h":0.2632,"l":0.2579,"c":0.2606,"v":26.8,"m":26.8},
{"t":"2025-01-09T12:00Z","o":0.261,"h":0.2648,"l":0.2511,"c":0.2511,"v":54.7},
{"t":"2025-01-09T18:00Z","o":0.2511,"h":0.2556,"l":0.2451,"c":0.2524,"v":32},
{"t":"2025-01-10T00:00Z","o":0.2521,"h":0.2556,"l":0.2505,"c":0.2556,"v":17.5},
{"t":"2025-01-10T06:00Z","o":0.2553,"h":0.2625,"l":0.2521,"c":0.2597,"v":22.7},
{"t":"2025-01-10T12:00Z","o":0.2597,"h":0.26,"l":0.2457,"c":0.2575,"v":51.6,"m":30.6},
{"t":"2025-01-10T18:00Z","o":0.2575,"h":0.2581,"l":0.2526,"c":0.2546,"v":13.4},
{"t":"2025-01-11T00:00Z","o":0.2549,"h":0.2549,"l":0.2505,"c":0.2527,"v":9.3},
{"t":"2025-01-11T06:00Z","o":0.2527,"h":0.2543,"l":0.2502,"c":0.254,"v":11.4},
{"t":"2025-01-11T12:00Z","o":0.254,"h":0.254,"l":0.2496,"c":0.2511,"v":14.4},
{"t":"2025-01-11T18:00Z","o":0.2511,"h":0.2606,"l":0.2511,"c":0.2549,"v":16.5},
{"t":"2025-01-12T00:00Z","o":0.2549,"h":0.2559,"l":0.2526,"c":0.2539,"v":11.4,"m":28.2},
{"t":"2025-01-12T06:00Z","o":0.2543,"h":0.2549,"l":0.2495,"c":0.253,"v":14.4},
{"t":"2025-01-12T12:00Z","o":0.2529,"h":0.2559,"l":0.2518,"c":0.2533,"v":13.4,"m":24.8},
{"t":"2025-01-12T18:00Z","o":0.2533,"h":0.2562,"l":0.2461,"c":0.2495,"v":11.4},
{"t":"2025-01-13T00:00Z","o":0.2499,"h":0.2565,"l":0.2388,"c":0.2388,"v":33},
{"t":"2025-01-13T06:00Z","o":0.2391,"h":0.2391,"l":0.2204,"c":0.2204,"v":52.6},
{"t":"2025-01-13T12:00Z","o":0.2204,"h":0.2375,"l":0.2188,"c":0.228,"v":68.1,"m":26.5},
{"t":"2025-01-13T18:00Z","o":0.2277,"h":0.2391,"l":0.2242,"c":0.2391,"v":32},
{"t":"2025-01-14T00:00Z","o":0.2388,"h":0.2435,"l":0.2375,"c":0.241,"v":17.5},
{"t":"2025-01-14T06:00Z","o":0.2407,"h":0.2483,"l":0.2407,"c":0.2426,"v":18.6},
{"t":"2025-01-14T12:00Z","o":0.2423,"h":0.2467,"l":0.2407,"c":0.2442,"v":20.6},
{"t":"2025-01-14T18:00Z","o":0.2438,"h":0.2489,"l":0.2423,"c":0.2461,"v":11.4,"m":23},
{"t":"2025-01-15T00:00Z","o":0.2461,"h":0.2486,"l":0.2407,"c":0.2445,"v":17.5},
{"t":"2025-01-15T06:00Z","o":0.2448,"h":0.2461,"l":0.2381,"c":0.24,"v":16.5},
{"t":"2025-01-15T12:00Z","o":0.2397,"h":0.26,"l":0.2391,"c":0.2553,"v":42.3},
{"t":"2025-01-15T18:00Z","o":0.2549,"h":0.2635,"l":0.2537,"c":0.2635,"v":18.6,"m":22.4},
{"t":"2025-01-16T00:00Z","o":0.2635,"h":0.2635,"l":0.2558,"c":0.2581,"v":13.4},
{"t":"2025-01-16T06:00Z","o":0.2584,"h":0.2635,"l":0.2518,"c":0.2578,"v":16.5},
{"t":"2025-01-16T12:00Z","o":0.2568,"h":0.2625,"l":0.2514,"c":0.2625,"v":47.5,"m":25.1},
{"t":"2025-01-16T18:00Z","o":0.2625,"h":0.2625,"l":0.2547,"c":0.2572,"v":17.5},
{"t":"2025-01-17T00:00Z","o":0.2568,"h":0.2676,"l":0.2568,"c":0.2651,"v":14.4},
{"t":"2025-01-17T06:00Z","o":0.2648,"h":0.2705,"l":0.2632,"c":0.2692,"v":17.5},
{"t":"2025-01-17T12:00Z","o":0.2692,"h":0.2702,"l":0.2632,"c":0.2632,"v":32},
{"t":"2025-01-17T18:00Z","o":0.2632,"h":0.2724,"l":0.2621,"c":0.2692,"v":14.4,"m":26.1},
{"t":"2025-01-18T00:00Z","o":0.2692,"h":0.2733,"l":0.2511,"c":0.2511,"v":27.9},
{"t":"2025-01-18T06:00Z","o":0.2511,"h":0.261,"l":0.247,"c":0.2572,"v":42.3},
{"t":"2025-01-18T12:00Z","o":0.2572,"h":0.2575,"l":0.2484,"c":0.2489,"v":35.1},
{"t":"2025-01-18T18:00Z","o":0.2489,"h":0.261,"l":0.247,"c":0.2546,"v":16.5,"m":23},
{"t":"2025-01-19T00:00Z","o":0.2546,"h":0.2616,"l":0.2505,"c":0.2524,"v":19.6},
{"t":"2025-01-19T06:00Z","o":0.2524,"h":0.2524,"l":0.2302,"c":0.2318,"v":47.5,"m":24.1},
{"t":"2025-01-19T12:00Z","o":0.2318,"h":0.253,"l":0.2318,"c":0.2527,"v":39.2},
{"t":"2025-01-19T18:00Z","o":0.2527,"h":0.2578,"l":0.2248,"c":0.2302,"v":76.4,"m":32},
{"t":"2025-01-20T00:00Z","o":0.2302,"h":0.2302,"l":0.2191,"c":0.2299,"v":66},
{"t":"2025-01-20T06:00Z","o":0.2299,"h":0.2495,"l":0.2289,"c":0.2451,"v":56.8},
{"t":"2025-01-20T12:00Z","o":0.2451,"h":0.2454,"l":0.2242,"c":0.2305,"v":70.2},
{"t":"2025-01-20T18:00Z","o":0.2305,"h":0.2378,"l":0.2288,"c":0.2331,"v":24.8},
{"t":"2025-01-21T00:00Z","o":0.2331,"h":0.2336,"l":0.2207,"c":0.2216,"v":22.4},
{"t":"2025-01-21T06:00Z","o":0.2216,"h":0.2312,"l":0.2207,"c":0.2312,"v":5.8,"m":36.1},
{"t":"2025-01-21T12:00Z","o":0.23121,"h":0.2333,"l":0.22962,"c":0.23238,"v":2.35,"m":34.32}
],
"levels":[
{"t":"2024-11-04T17:34Z","t2":"2025-02-06T06:29Z","p":0.31915,"kind":"blue"},
{"t":"2024-11-04T17:34Z","t2":"2025-02-06T06:29Z","p":0.27223,"kind":"red"},
{"t":"2024-11-04T17:34Z","t2":"2025-02-06T06:29Z","p":0.23819,"kind":"red"},
{"t":"2024-11-04T17:34Z","t2":"2025-02-06T06:29Z","p":0.21162,"kind":"red"}
],
"zones":[
{"t":"2025-01-21T12:00Z","t2":"2025-02-06T06:29Z","p":0.31898,"p2":0.23238,"kind":"green"},
{"t":"2025-01-21T12:00Z","t2":"2025-02-06T06:29Z","p":0.23238,"p2":0.21162,"kind":"rose"}
],
"trends":[
{"id":"A","t":"2024-11-04T19:14Z","p":0.19708},
{"id":"A","t":"2025-02-06T06:29Z","p":0.23228},
{"id":"B","t":"2024-11-20T20:27Z","p":0.29077},
{"id":"B","t":"2025-01-29T00:29Z","p":0.2096},
{"id":"C","t":"2024-12-07T02:38Z","p":0.41316},
{"id":"C","t":"2025-01-30T00:43Z","p":0.23465}
],
"tags":[
{"label":"0.31915","t":"2025-02-06T08:10Z","t2":"2025-02-11T09:22Z","p1":0.32977,"p2":0.32248,"pc":0.32612,"kind":"blue"},
{"label":"0.31898","t":"2025-02-06T08:10Z","t2":"2025-02-11T09:22Z","p1":0.32248,"p2":0.31518,"pc":0.31883,"kind":"green"},
{"label":"0.27223","t":"2025-02-06T08:10Z","t2":"2025-02-11T09:22Z","p1":0.27587,"p2":0.26858,"pc":0.27222,"kind":"red"},
{"label":"0.23819","t":"2025-02-06T08:10Z","t2":"2025-02-11T09:22Z","p1":0.25019,"p2":0.2429,"pc":0.24654,"kind":"red"},
{"label":"0.23272","t":"2025-02-06T08:10Z","t2":"2025-02-11T09:22Z","p1":0.2429,"p2":0.23592,"pc":0.23941,"kind":"gray"},
{"label":"0.23238","t":"2025-02-06T08:10Z","t2":"2025-02-11T19:12Z","p1":0.23592,"p2":0.22277,"pc":0.23244,"kind":"green"},
{"label":"05:32:01","t":"2025-02-06T08:10Z","pc":0.2261},
{"label":"0.21162","t":"2025-02-06T08:10Z","t2":"2025-02-11T09:22Z","p1":0.21531,"p2":0.20802,"pc":0.21167,"kind":"red"},
{"label":"0.21162","t":"2025-02-06T08:10Z","t2":"2025-02-11T09:22Z","p1":0.20802,"p2":0.20073,"pc":0.20437,"kind":"rose"}
],
"notes":[
{"text":"W / TetherUS PERPETUAL CONTRACT, 6h, BINANCE","t":"2024-11-05T06:51Z","p":0.40872,"kind":"ink"},
{"text":"O","t":"2024-11-24T14:07Z","p":0.40872,"kind":"ink"},
{"text":"0.23121","t":"2024-11-25T02:34Z","p":0.40872,"kind":"teal"},
{"text":"H","t":"2024-11-28T12:45Z","p":0.40872,"kind":"ink"},
{"text":"0.23330","t":"2024-11-29T02:02Z","p":0.40872,"kind":"teal"},
{"text":"L","t":"2024-12-02T13:03Z","p":0.40872,"kind":"ink"},
{"text":"0.22962","t":"2024-12-02T22:02Z","p":0.40872,"kind":"teal"},
{"text":"C","t":"2024-12-06T07:35Z","p":0.40872,"kind":"ink"},
{"text":"0.23238","t":"2024-12-06T19:32Z","p":0.40872,"kind":"teal"},
{"text":"+0.00130 (+0.56%)","t":"2024-12-10T06:32Z","p":0.40872,"kind":"teal"},
{"text":"Vol · W (20)","t":"2024-11-05T06:51Z","p":0.40333,"kind":"ink"},
{"text":"2.35M","t":"2024-11-10T03:45Z","p":0.40333,"kind":"teal"},
{"text":"34.32M","t":"2024-11-13T00:00Z","p":0.40333,"kind":"azure"}
],
"targets":[
{"text":"TP3","t":"2025-01-31T22:30Z","p":0.32723,"kind":"navy"},
{"text":"TP2","t":"2025-01-27T22:20Z","p":0.27936,"kind":"red"},
{"text":"TP1","t":"2025-01-28T21:36Z","p":0.24512,"kind":"red"}
]
},
"encoding":{"x":{"field":"t","type":"temporal","title":null,
 "scale":{"type":"utc","domain":[1730741631000,1738823426000],"padding":0},
 "axis":{"values":[1731283200000,1731888000000,1733011200000,1733702400000,1734307200000,1734912000000,1735689600000,1736726400000,1737331200000,1738368000000],
  "labelExpr":"utcdate(datum.value)==1 ? (utcmonth(datum.value)==0 ? '2025' : utcFormat(datum.value,'%b')) : utcFormat(datum.value,'%-d')",
  "labelFontWeight":{"condition":{"test":"utcmonth(datum.value)==0&&utcdate(datum.value)==1","value":"bold"},"value":"normal"},
  "grid":true,"gridColor":"#f0f3fa","domain":false,"ticks":false,"labelPadding":8,"labelFontSize":14,"labelColor":"#131722","labelFont":"Liberation Sans","labelOverlap":false,"labelFlush":false,"labelBound":false}}},
"layer":[
{"data":{"name":"bars"},
 "layer":[
 {"mark":{"type":"bar","size":2,"clip":true,"opacity":0.5},
  "encoding":{"y":{"field":"v","type":"quantitative","stack":null,"axis":null,"scale":{"domain":[-2.08,837.5],"nice":false,"zero":false}},
   "color":{"condition":{"test":"datum.c>=datum.o","value":"#089981"},"value":"#f23645"}}},
 {"transform":[{"filter":"isValid(datum.m)"}],
  "mark":{"type":"line","color":"#2962ff","strokeWidth":1,"clip":true},
  "encoding":{"y":{"field":"m","type":"quantitative","axis":null,"scale":{"domain":[-2.08,837.5],"nice":false,"zero":false}}}}
 ]},
{"resolve":{"axis":{"y":"independent"}},
 "layer":[
 {"data":{"values":[{"t":"2024-11-04T15:54Z","t2":"2025-02-12T00:14Z","p":0.41347,"p2":0.14683}]},
  "mark":{"type":"rect","fill":null,"stroke":"#eef0f7","strokeWidth":2},
  "encoding":{"x2":{"field":"t2"},"y":{"field":"p","type":"quantitative","axis":{"orient":"right","title":null,"values":[0.16,0.18,0.2,0.22,0.24,0.26,0.28,0.3,0.32,0.34,0.36,0.38,0.4],"format":".5f","grid":true,"gridColor":"#f0f3fa","domain":false,"ticks":false,"labelPadding":11,"labelFontSize":15,"labelColor":"#131722","labelFont":"Liberation Sans","labelBound":false,"labelFlush":false,"labelOverlap":false},"scale":{"domain":[0.15761,0.41316],"nice":false,"zero":false}},"y2":{"field":"p2"}}},
 {"data":{"name":"zones"},
  "mark":{"type":"rect","opacity":0.2},
  "encoding":{"x2":{"field":"t2"},"y":{"field":"p","type":"quantitative","axis":null,"scale":{"domain":[0.15761,0.41316],"nice":false,"zero":false}},"y2":{"field":"p2"},
   "color":{"field":"kind","type":"nominal","legend":null,"scale":{"domain":["blue","red","green","gray","rose","ink","teal","azure","navy"],"range":["#0000ff","#ff0000","#089981","#787b86","#f23645","#131722","#089981","#2962ff","#1447c8"]}}}},
 {"data":{"name":"bars"},"transform":[{"filter":"isValid(datum.o)"}],
  "mark":{"type":"rule","strokeWidth":1,"clip":true},
  "encoding":{"y":{"field":"h","type":"quantitative","axis":null,"scale":{"domain":[0.15761,0.41316],"nice":false,"zero":false}},"y2":{"field":"l"},
   "color":{"condition":{"test":"datum.c>=datum.o","value":"#089981"},"value":"#f23645"}}},
 {"data":{"name":"bars"},"transform":[{"filter":"isValid(datum.o)"}],
  "mark":{"type":"bar","size":3,"clip":true},
  "encoding":{"y":{"field":"o","type":"quantitative","axis":null,"scale":{"domain":[0.15761,0.41316],"nice":false,"zero":false}},"y2":{"field":"c"},
   "color":{"condition":{"test":"datum.c>=datum.o","value":"#089981"},"value":"#f23645"}}},
 {"data":{"values":[{"t":"2024-11-04T17:34Z","t2":"2025-02-06T06:29Z","p":0.23238}]},
  "mark":{"type":"rule","color":"#089981","strokeWidth":1,"strokeDash":[1,3]},
  "encoding":{"x2":{"field":"t2"},"y":{"field":"p","type":"quantitative","axis":null,"scale":{"domain":[0.15761,0.41316],"nice":false,"zero":false}}}},
 {"data":{"values":[{"t":"2025-01-21T12:00Z","t2":"2025-02-06T06:29Z","p":0.23255,"q":0.23255},{"t":"2025-01-21T01:55Z","t2":"2025-01-21T10:19Z","p":0.23412,"q":0.23253},{"t":"2025-01-21T13:26Z","t2":"2025-01-21T20:10Z","p":0.23275,"q":0.23386}]},
  "mark":{"type":"rule","color":"#8a8d96","strokeWidth":1},
  "encoding":{"x2":{"field":"t2"},"y":{"field":"p","type":"quantitative","axis":null,"scale":{"domain":[0.15761,0.41316],"nice":false,"zero":false}},"y2":{"field":"q"}}},
 {"data":{"name":"levels"},
  "mark":{"type":"rule","strokeWidth":1},
  "encoding":{"x2":{"field":"t2"},"y":{"field":"p","type":"quantitative","axis":null,"scale":{"domain":[0.15761,0.41316],"nice":false,"zero":false}},
   "color":{"field":"kind","type":"nominal","legend":null}}},
 {"data":{"name":"trends"},
  "mark":{"type":"line","color":"#0000ff","strokeWidth":2,"clip":true},
  "encoding":{"detail":{"field":"id"},"y":{"field":"p","type":"quantitative","axis":null,"scale":{"domain":[0.15761,0.41316],"nice":false,"zero":false}}}},
 {"data":{"values":[{"t":"2025-01-21T12:00Z","p":0.16205}]},
  "mark":{"type":"point","shape":"circle","size":314,"filled":false,"stroke":"#7b3fa0","strokeWidth":2},
  "encoding":{"y":{"field":"p","type":"quantitative","axis":null,"scale":{"domain":[0.15761,0.41316],"nice":false,"zero":false}}}},
 {"data":{"values":[{"t":"2025-01-21T12:00Z","p":0.16205}]},
  "mark":{"type":"point","shape":"M0.2,-1L-0.55,0.15L-0.05,0.15L-0.2,1L0.55,-0.2L0.05,-0.2Z","size":160,"filled":true,"fill":"#7b3fa0","stroke":null,"opacity":1},
  "encoding":{"y":{"field":"p","type":"quantitative","axis":null,"scale":{"domain":[0.15761,0.41316],"nice":false,"zero":false}}}},
 {"data":{"values":[{"t":"2025-01-21T23:30Z","p":0.16358}]},
  "mark":{"type":"point","shape":"circle","size":35,"filled":true,"fill":"#f23645","stroke":null,"opacity":1},
  "encoding":{"y":{"field":"p","type":"quantitative","axis":null,"scale":{"domain":[0.15761,0.41316],"nice":false,"zero":false}}}},
 {"data":{"name":"tags"},"transform":[{"filter":"isValid(datum.p1)"}],
  "mark":{"type":"rect"},
  "encoding":{"x2":{"field":"t2"},"y":{"field":"p1","type":"quantitative","axis":null,"scale":{"domain":[0.15761,0.41316],"nice":false,"zero":false}},"y2":{"field":"p2"},
   "color":{"field":"kind","type":"nominal","legend":null}}},
 {"data":{"name":"tags"},
  "mark":{"type":"text","align":"left","baseline":"middle","dx":10,"fontSize":15,"fontWeight":"normal","font":"Liberation Sans"},
  "encoding":{"text":{"field":"label"},"y":{"field":"pc","type":"quantitative","axis":null,"scale":{"domain":[0.15761,0.41316],"nice":false,"zero":false}},
   "color":{"condition":{"test":"!isValid(datum.p1)","value":"#c4e6df"},"value":"#ffffff"}}},
 {"data":{"values":[{"t":"2025-02-06T13:09Z","t2":"2025-02-11T19:12Z","p":0.41189,"p2":0.40365}]},
  "mark":{"type":"rect","fill":"#ffffff","stroke":"#e0e3eb","cornerRadius":3},
  "encoding":{"x2":{"field":"t2"},"y":{"field":"p","type":"quantitative","axis":null,"scale":{"domain":[0.15761,0.41316],"nice":false,"zero":false}},"y2":{"field":"p2"}}},
 {"data":{"values":[{"t":"2025-02-07T04:05Z","p":0.40761,"text":"USDT"}]},
  "mark":{"type":"text","align":"left","baseline":"middle","fontSize":11,"color":"#131722","font":"Liberation Sans"},
  "encoding":{"text":{"field":"text"},"y":{"field":"p","type":"quantitative","axis":null,"scale":{"domain":[0.15761,0.41316],"nice":false,"zero":false}}}},
 {"data":{"name":"notes"},
  "mark":{"type":"text","align":"left","baseline":"middle","font":"Liberation Sans"},
  "encoding":{"text":{"field":"text"},"size":{"condition":{"test":"length(datum.text)>30","value":11},"value":12},"y":{"field":"p","type":"quantitative","axis":null,"scale":{"domain":[0.15761,0.41316],"nice":false,"zero":false}},
   "color":{"field":"kind","type":"nominal","legend":null}}},
 {"data":{"name":"targets"},
  "mark":{"type":"text","align":"center","baseline":"middle","fontSize":26,"font":"Liberation Sans"},
  "encoding":{"text":{"field":"text"},"y":{"field":"p","type":"quantitative","axis":null,"scale":{"domain":[0.15761,0.41316],"nice":false,"zero":false}},
   "color":{"field":"kind","type":"nominal","legend":null}}},
 {"data":{"values":[{"t":"2024-11-05T09:20Z","p":0.14144}]},
  "mark":{"type":"point","shape":"M-1,-.6H-.12V.6H-.56V-.1H-1ZM-.02,-.6H.3V-.1H-.02ZM.25,.6L.55,-.6H1L.7,.6Z","size":400,"filled":true,"fill":"#131722","stroke":null,"opacity":1},
  "encoding":{"y":{"field":"p","type":"quantitative","axis":null,"scale":{"domain":[0.15761,0.41316],"nice":false,"zero":false}}}},
 {"data":{"values":[{"t":"2024-11-06T07:45Z","p":0.14144,"text":"TradingView"}]},
  "mark":{"type":"text","align":"left","baseline":"middle","fontSize":13,"color":"#131722","font":"Liberation Sans"},
  "encoding":{"text":{"field":"text"},"y":{"field":"p","type":"quantitative","axis":null,"scale":{"domain":[0.15761,0.41316],"nice":false,"zero":false}}}},
 {"data":{"values":[{"t":"2025-02-01T15:07Z","p":0.1427}]},
  "mark":{"type":"point","shape":"M-1,-.3L-.5,-.8L0,-.3L.5,-.8L1,-.3M-1,.1L0,1L1,.1M-.5,0L0,.4L.5,0","size":640,"filled":false,"stroke":"#d8d8d8","strokeWidth":1,"opacity":1},
  "encoding":{"y":{"field":"p","type":"quantitative","axis":null,"scale":{"domain":[0.15761,0.41316],"nice":false,"zero":false}}}},
 {"data":{"values":[{"t":"2025-02-02T21:07Z","p":0.143,"text":"@NoumanK"}]},
  "mark":{"type":"text","align":"left","baseline":"middle","fontSize":24,"fill":"#ffffff","stroke":"#d2d2d2","strokeWidth":0.7,"font":"Liberation Sans"},
  "encoding":{"text":{"field":"text"},"y":{"field":"p","type":"quantitative","axis":null,"scale":{"domain":[0.15761,0.41316],"nice":false,"zero":false}}}}
 ]}
],
"resolve":{"scale":{"y":"independent"},"axis":{"y":"independent"}}
}
